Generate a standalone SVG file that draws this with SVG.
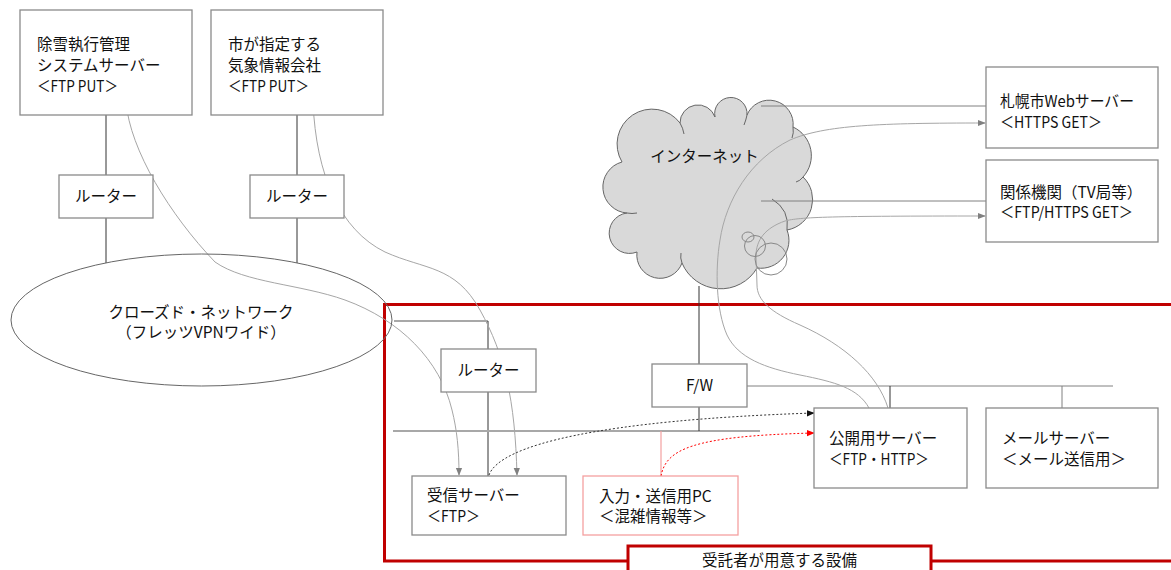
<svg xmlns="http://www.w3.org/2000/svg" width="1171" height="570" viewBox="0 0 1171 570">
<style>
text{font-family:"Noto Sans CJK JP","Noto Sans",sans-serif;font-size:15.5px;fill:#111}
.box{fill:#fff;stroke:#8a8a8a;stroke-width:1.3}
.ln{fill:none;stroke:#333;stroke-width:1}
.net{fill:none;stroke:#a8a8a8;stroke-width:2}
.gl{fill:none;stroke:#808080;stroke-width:1}
.cv{fill:none;stroke:#a6a6a6;stroke-width:1}
.loop{fill:none;stroke:#888;stroke-width:1}
.mid{text-anchor:middle}
</style>
<defs>
<marker id="ag" viewBox="0 0 10 10" refX="9" refY="5" markerWidth="8" markerHeight="8" markerUnits="userSpaceOnUse" orient="auto"><path d="M0,1 L10,5 L0,9 z" fill="#808080"/></marker>
<marker id="ak" viewBox="0 0 10 10" refX="9" refY="5" markerWidth="8" markerHeight="8" markerUnits="userSpaceOnUse" orient="auto"><path d="M0,1 L10,5 L0,9 z" fill="#111"/></marker>
<marker id="ar" viewBox="0 0 10 10" refX="9" refY="5" markerWidth="8" markerHeight="8" markerUnits="userSpaceOnUse" orient="auto"><path d="M0,1 L10,5 L0,9 z" fill="#ff0000"/></marker>
</defs>
<rect width="1171" height="570" fill="#fff"/>

<g id="frame">
<path d="M628,561 L384.5,561 L384.5,304.5 L1173,304.5 M931,561 L1173,561" fill="none" stroke="#c00000" stroke-width="3"/>
</g>

<g id="connectors">
<line class="ln" x1="106" y1="115" x2="106" y2="175"/>
<line class="ln" x1="106" y1="218" x2="106" y2="263"/>
<line class="ln" x1="297" y1="115" x2="297" y2="175"/>
<line class="ln" x1="297" y1="218" x2="297" y2="263"/>
<line class="net" x1="394" y1="321" x2="488" y2="321"/>
<line class="ln" x1="488" y1="321" x2="488" y2="349"/>
<line class="ln" x1="488" y1="392" x2="488" y2="476"/>
<line class="net" x1="393" y1="431" x2="760" y2="431"/>
<line class="ln" x1="699" y1="286" x2="699" y2="364"/>
<line class="ln" x1="699" y1="407" x2="699" y2="431"/>
<line stroke="#f4a0a0" stroke-width="1.2" x1="661" y1="431" x2="661" y2="476"/>
<line class="gl" x1="747" y1="386" x2="1113" y2="386"/>
<line class="ln" x1="890" y1="386" x2="890" y2="408"/>
<line class="gl" x1="1062" y1="386" x2="1062" y2="408"/>
</g>

<g id="internet">
<path d="M622,162 A35,35 0 0 1 680,123 A18,18 0 0 1 715,117 A16.2,16.2 0 1 1 747,115 A24,24 0 0 1 793,127 A31.5,31.5 0 0 1 803,177 A31,31 0 0 1 787,230 A28,28 0 0 1 757,268 A42,42 0 0 1 682,263 A23.3,23.3 0 0 1 637,252 A20.3,20.3 0 1 1 627,213 A26,26 0 0 1 622,162 Z" fill="#d9d9d9" stroke="#666" stroke-width="1"/>
<path d="M680,123 Q683,128 684,134 M747,115 Q746,120 744,125 M793,127 Q794,133 792,138 M803,177 Q800,181 796,182 M627,213 Q632,214 637,213 M682,263 Q680,258 681,253 M772,199 Q790,210 787,230" fill="none" stroke="#666" stroke-width="1"/>
<text x="704.5" y="162" class="mid">インターネット</text>
</g>

<g id="links">
<line class="gl" x1="761" y1="106" x2="986" y2="106"/>
<line class="gl" x1="761" y1="201" x2="986" y2="201"/>
<path class="cv" d="M126,102 C130,150 170,215 215,262 C245,283 300,284 345,300 C400,320 440,360 452,410 C457,430 459,450 459,475" marker-end="url(#ag)"/>
<path class="cv" d="M313,102 C316,175 340,230 385,252 C425,270 455,265 480,310 C505,355 515,400 517,475" marker-end="url(#ag)"/>
<path class="cv" d="M869,408 C858,388 835,382 800,375 C765,368 738,358 727,335 C716,310 715,270 720,240 C726,200 750,160 790,140 C825,125 880,123 985,123" marker-end="url(#ag)"/>
<path class="cv" d="M888,408 C878,375 845,345 800,325 C770,312 757,300 757,285 L756,256 C756,240 765,228 785,221 C800,217 830,216 985,216" marker-end="url(#ag)"/>
<ellipse class="loop" cx="748" cy="237" rx="6" ry="5"/>
<circle class="loop" cx="755" cy="246" r="10.5"/>
<circle class="loop" cx="771" cy="259" r="16"/>
<path d="M489,475 C500,445 600,420 814,413" fill="none" stroke="#333" stroke-width="1" stroke-dasharray="2,2" marker-end="url(#ak)"/>
<path d="M661,476 C666,450 690,436 814,433" fill="none" stroke="#ff0000" stroke-width="1" stroke-dasharray="2,2" marker-end="url(#ar)"/>
</g>

<g id="snow-server">
<rect class="box" x="20" y="10" width="172" height="105"/>
<text><tspan x="37" y="50">除雪執行管理</tspan><tspan x="37" y="71">システムサーバー</tspan><tspan x="37" y="92" textLength="81" lengthAdjust="spacingAndGlyphs">＜FTP PUT＞</tspan></text>
</g>
<g id="weather">
<rect class="box" x="211" y="10" width="172" height="105"/>
<text><tspan x="228" y="50">市が指定する</tspan><tspan x="228" y="71">気象情報会社</tspan><tspan x="228" y="92" textLength="81" lengthAdjust="spacingAndGlyphs">＜FTP PUT＞</tspan></text>
</g>
<g id="router1">
<rect class="box" x="59" y="175" width="94" height="43"/>
<text x="106" y="202" class="mid">ルーター</text>
</g>
<g id="router2">
<rect class="box" x="250" y="175" width="94" height="43"/>
<text x="297" y="202" class="mid">ルーター</text>
</g>
<g id="closed-network">
<ellipse cx="201.5" cy="320" rx="190.5" ry="66" fill="none" stroke="#666" stroke-width="1"/>
<text class="mid"><tspan x="201" y="318">クローズド・ネットワーク</tspan><tspan x="201" y="338">（フレッツVPNワイド）</tspan></text>
</g>
<g id="web-server">
<rect class="box" x="986" y="67" width="172" height="81"/>
<text><tspan x="1000" y="107" textLength="134" lengthAdjust="spacingAndGlyphs">札幌市Webサーバー</tspan><tspan x="1000" y="128" textLength="102" lengthAdjust="spacingAndGlyphs">＜HTTPS GET＞</tspan></text>
</g>
<g id="agencies">
<rect class="box" x="986" y="160" width="172" height="82"/>
<text><tspan x="1000" y="198">関係機関（TV局等）</tspan><tspan x="1000" y="218" textLength="133" lengthAdjust="spacingAndGlyphs">＜FTP/HTTPS GET＞</tspan></text>
</g>
<g id="router3">
<rect class="box" x="441" y="349" width="95" height="43"/>
<text x="488.5" y="376" class="mid">ルーター</text>
</g>
<g id="fw">
<rect class="box" x="652" y="364" width="95" height="43"/>
<text x="699.5" y="391" class="mid">F/W</text>
</g>
<g id="receiver">
<rect class="box" x="412" y="476" width="154" height="59"/>
<text><tspan x="427" y="501">受信サーバー</tspan><tspan x="427" y="522" textLength="53" lengthAdjust="spacingAndGlyphs">＜FTP＞</tspan></text>
</g>
<g id="input-pc">
<rect x="583" y="476" width="155" height="59" fill="#fff" stroke="#f4a0a0" stroke-width="1.3"/>
<text><tspan x="599" y="502">入力・送信用PC</tspan><tspan x="599" y="522">＜混雑情報等＞</tspan></text>
</g>
<g id="public-server">
<rect class="box" x="814" y="408" width="153" height="80"/>
<text><tspan x="829" y="444">公開用サーバー</tspan><tspan x="829" y="465" textLength="100" lengthAdjust="spacingAndGlyphs">＜FTP・HTTP＞</tspan></text>
</g>
<g id="mail-server">
<rect class="box" x="986" y="408" width="172" height="80"/>
<text><tspan x="1002" y="444">メールサーバー</tspan><tspan x="1002" y="465">＜メール送信用＞</tspan></text>
</g>
<g id="label">
<rect x="628" y="546" width="303" height="30" fill="#fff" stroke="#c00000" stroke-width="3"/>
<text x="779.5" y="566" class="mid">受託者が用意する設備</text>
</g>
</svg>
